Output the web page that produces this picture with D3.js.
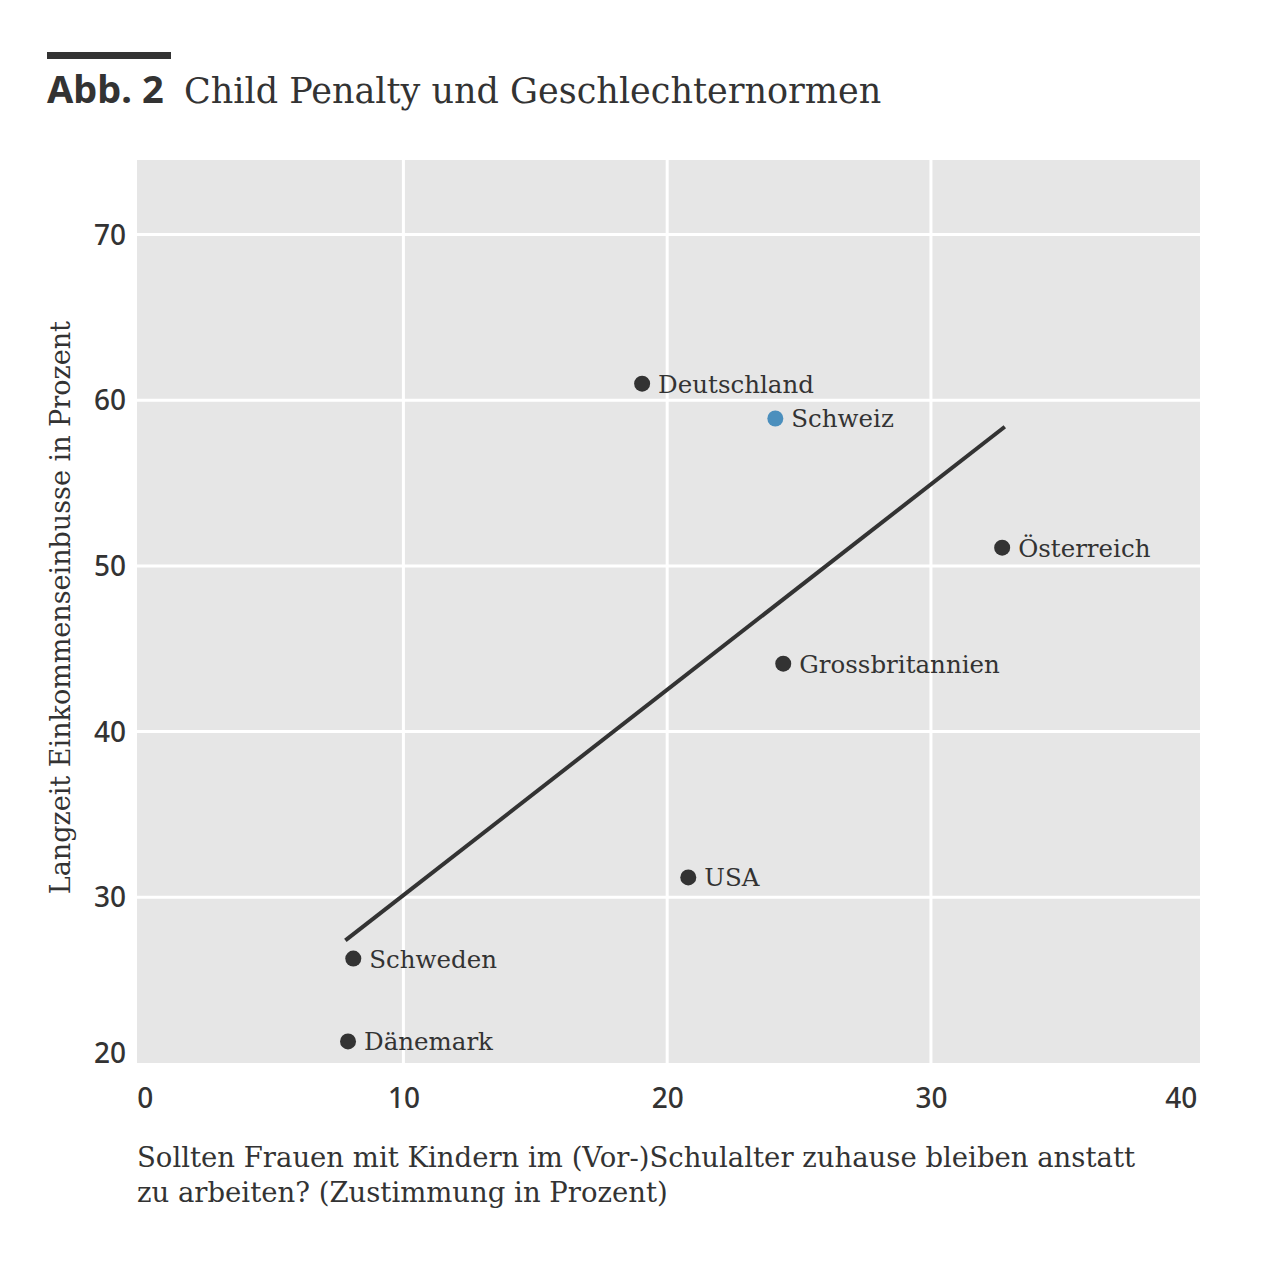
<!DOCTYPE html>
<html>
<head>
<meta charset="utf-8">
<script src="https://cdn.jsdelivr.net/npm/d3@7"></script>
<style>
  body { margin: 0; background: #fff; }
  .tick text { font-family: "Noto Sans", "Open Sans", sans-serif; font-weight: 500; font-size: 28px; fill: #333; }
  .lbl { font-family: "DejaVu Serif", serif; font-size: 24.5px; fill: #333; }
</style>
</head>
<body>
<svg id="chart" width="1270" height="1285"></svg>
<script>
// data
const countries = ["Deutschland", "Schweiz", "Österreich", "Grossbritannien", "USA", "Schweden", "Dänemark"];
const zustimmung = [19.05, 24.1, 32.7, 24.4, 20.8, 8.1, 7.9];   // x, percent agreeing
const einbusse = [61.0, 58.9, 51.1, 44.1, 31.2, 26.3, 21.3];     // y, long-term income loss
const highlight = "Schweiz";
const fitX = [7.8, 32.8];
const fitY = [27.4, 58.4];
const xTicks = [0, 10, 20, 30, 40];
const yTicks = [20, 30, 40, 50, 60, 70];

const svg = d3.select("#chart");
const plot = { left: 137, right: 1200, top: 160, bottom: 1063 };

const x = d3.scaleLinear().domain([-0.1, 40.2]).range([plot.left, plot.right]);
const y = d3.scaleLinear().domain([20, 74.5]).range([plot.bottom, plot.top]);

// title block
svg.append("rect").attr("x", 47).attr("y", 52).attr("width", 124).attr("height", 7).attr("fill", "#333");
svg.append("text").attr("x", 47).attr("y", 103)
  .style("font-family", "'Noto Sans', sans-serif").style("font-weight", 700).style("font-size", "38px")
  .attr("fill", "#333").text("Abb. 2");
svg.append("text").attr("x", 184).attr("y", 103)
  .attr("class", "lbl").style("font-size", "35px").attr("fill", "#444")
  .text("Child Penalty und Geschlechternormen");

// panel
svg.append("rect")
  .attr("x", plot.left).attr("y", plot.top)
  .attr("width", plot.right - plot.left).attr("height", plot.bottom - plot.top)
  .attr("fill", "#e6e6e6");

// grid
svg.append("g").selectAll("line.h")
  .data(yTicks.filter(d => d > 20))
  .join("line")
  .attr("x1", plot.left).attr("x2", plot.right)
  .attr("y1", d => y(d)).attr("y2", d => y(d))
  .attr("stroke", "#fff").attr("stroke-width", 3);
svg.append("g").selectAll("line.v")
  .data(xTicks.filter(d => d > 0 && d < 40))
  .join("line")
  .attr("y1", plot.top).attr("y2", plot.bottom)
  .attr("x1", d => x(d)).attr("x2", d => x(d))
  .attr("stroke", "#fff").attr("stroke-width", 3);

// axes
const xAxis = svg.append("g")
  .attr("transform", `translate(0,${plot.bottom})`)
  .call(d3.axisBottom(x).tickValues(xTicks).tickSize(0).tickPadding(25));
xAxis.select(".domain").remove();
xAxis.selectAll(".tick text")
  .attr("text-anchor", (d, i) => i === 0 ? "start" : i === xTicks.length - 1 ? "end" : "middle")
  .attr("x", (d, i) => i === 0 ? -3 : i === xTicks.length - 1 ? 2 : 0);

const yAxis = svg.append("g")
  .attr("transform", `translate(${plot.left},0)`)
  .call(d3.axisLeft(y).tickValues(yTicks).tickSize(0).tickPadding(11));
yAxis.select(".domain").remove();
yAxis.selectAll(".tick text").attr("dy", d => d === 20 ? "-0.02em" : "0.34em");

// axis titles
svg.append("text")
  .attr("class", "lbl").style("font-size", "27px").attr("fill", "#444")
  .attr("transform", `translate(70,${(y(30) + 318) / 2}) rotate(-90)`)
  .attr("text-anchor", "middle")
  .text("Langzeit Einkommenseinbusse in Prozent");
svg.append("text")
  .attr("class", "lbl").style("font-size", "27.5px").attr("fill", "#444")
  .attr("x", plot.left).attr("y", 1167)
  .text("Sollten Frauen mit Kindern im (Vor-)Schulalter zuhause bleiben anstatt");
svg.append("text")
  .attr("class", "lbl").style("font-size", "27.5px").attr("fill", "#444")
  .attr("x", plot.left).attr("y", 1202)
  .text("zu arbeiten? (Zustimmung in Prozent)");

// regression line
svg.append("path")
  .datum(d3.zip(fitX, fitY))
  .attr("fill", "none").attr("stroke", "#333").attr("stroke-width", 4)
  .attr("d", d3.line().x(d => x(d[0])).y(d => y(d[1])));

// points
const pts = countries.map((c, i) => ({ name: c, vx: zustimmung[i], vy: einbusse[i] }));
const g = svg.append("g");
g.selectAll("circle")
  .data(pts)
  .join("circle")
  .attr("cx", d => x(d.vx)).attr("cy", d => y(d.vy)).attr("r", 8)
  .attr("fill", d => d.name === highlight ? "#4b8fbd" : "#333");
g.selectAll("text")
  .data(pts)
  .join("text")
  .attr("class", "lbl")
  .attr("x", d => x(d.vx) + 16).attr("y", d => y(d.vy) + 9)
  .text(d => d.name);
</script>
</body>
</html>
